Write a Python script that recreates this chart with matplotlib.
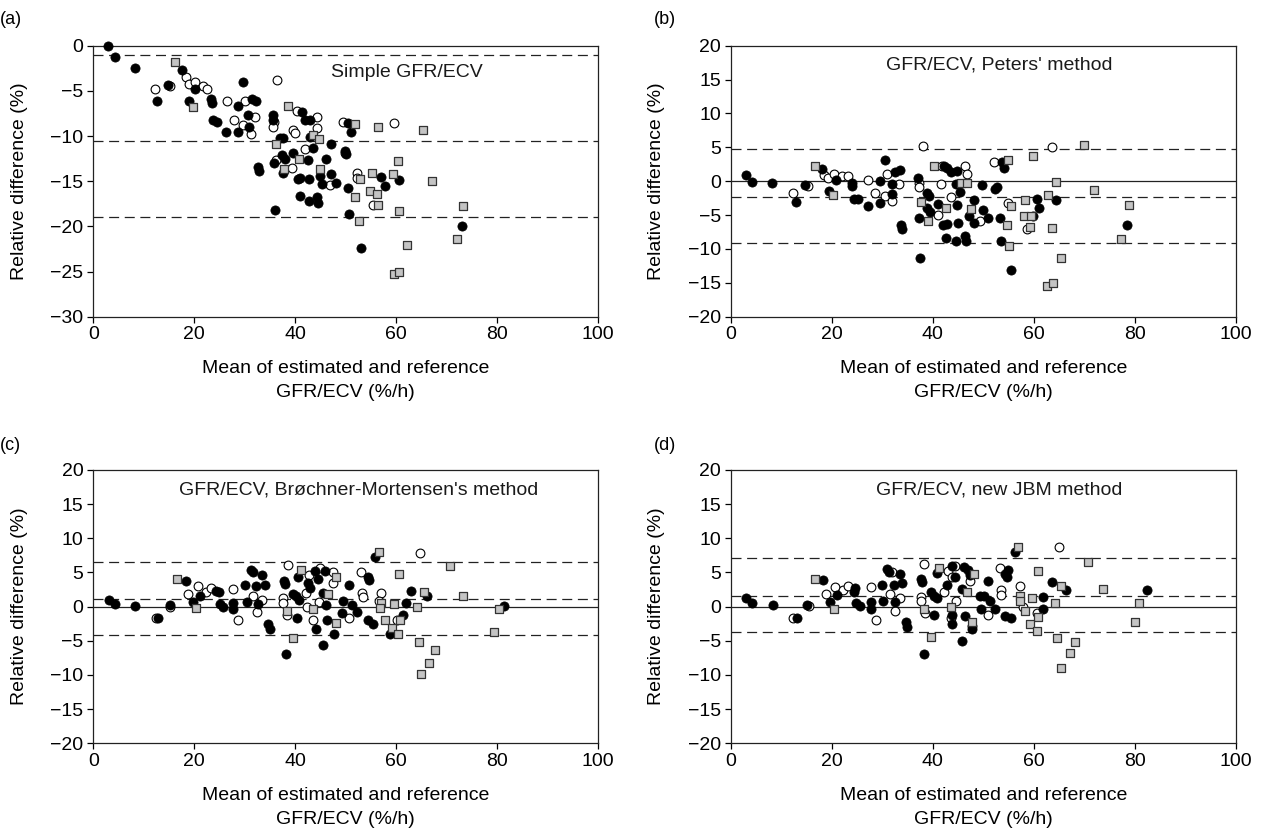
import matplotlib.pyplot as plt
import numpy as np

plt.rcParams['font.family'] = ['Liberation Sans', 'DejaVu Sans']

# ---- data: (mean, relative difference) ----
# (a) Simple GFR/ECV
a_filled = [(3.0, 0.0), (4.3, -1.3), (8.2, -2.5), (17.6, -2.7), (14.7, -4.3), (12.7, -6.1),
            (20.2, -4.8), (19.0, -6.1), (23.4, -5.9), (23.6, -6.3), (29.6, -4.0), (31.5, -5.9),
            (32.3, -6.1), (28.6, -6.7), (30.6, -7.7), (30.9, -9.0), (23.8, -8.2), (24.4, -8.4),
            (26.2, -9.6), (28.6, -9.6), (35.6, -7.7), (35.6, -8.2), (32.6, -13.4), (32.8, -13.9),
            (35.8, -13.0), (36.9, -10.2), (37.6, -10.2), (37.3, -12.1), (37.9, -12.5), (39.6, -11.9),
            (40.6, -14.8), (40.9, -14.7), (40.9, -16.6), (42.8, -17.2), (44.2, -16.8), (44.4, -17.4),
            (42.7, -14.8), (42.6, -12.7), (43.6, -11.3), (42.9, -10.1), (41.3, -7.3), (41.9, -8.2),
            (42.9, -8.2), (46.0, -12.5), (44.9, -14.4), (45.2, -15.3), (47.1, -14.2), (48.0, -15.2),
            (47.0, -10.9), (35.9, -18.2), (50.6, -18.6), (50.5, -15.7), (50.5, -8.6), (51.1, -9.5),
            (49.8, -11.7), (50.0, -12.0), (56.9, -14.5), (57.8, -15.5), (60.6, -14.9), (53.1, -22.4),
            (73.1, -20.0), (37.6, -14.1)]
a_open = [(12.2, -4.8), (15.2, -4.5), (18.3, -3.5), (18.9, -4.2), (20.1, -4.0), (21.7, -4.5),
          (22.6, -4.8), (26.4, -6.1), (30.0, -6.1), (32.1, -7.9), (27.9, -8.2), (29.7, -8.8),
          (31.2, -9.8), (36.4, -3.8), (35.7, -8.5), (35.6, -9.0), (39.6, -9.3), (39.9, -9.7),
          (40.3, -7.2), (42.0, -11.4), (39.4, -13.5), (36.2, -12.7), (44.2, -7.9), (44.2, -9.1),
          (46.8, -15.4), (49.5, -8.4), (49.8, -11.9), (52.2, -14.1), (52.3, -14.6), (55.4, -17.6),
          (59.6, -8.6)]
a_square = [(16.2, -1.8), (19.8, -6.8), (38.6, -6.7), (36.2, -10.9), (40.7, -12.5), (37.7, -13.7),
            (43.6, -9.9), (44.7, -10.3), (44.8, -13.7), (51.9, -8.7), (56.3, -9.0), (65.2, -9.3),
            (60.3, -12.8), (52.8, -14.8), (55.1, -14.1), (59.3, -14.2), (67.0, -15.0), (51.8, -16.7),
            (54.8, -16.1), (56.1, -16.4), (56.3, -17.6), (60.5, -18.3), (52.6, -19.4), (73.3, -17.8),
            (72.0, -21.4), (62.1, -22.1), (59.5, -25.3), (60.5, -25.1)]
a_lines = [-1.0, -10.5, -19.0]

# (b) Peters' method
b_filled = [(3.0, 0.9), (4.3, -0.1), (8.1, -0.2), (12.9, -3.0), (14.7, -0.5), (18.0, 1.8),
            (19.5, -1.4), (20.8, 0.2), (24.0, -0.3), (24.0, -0.7), (24.5, -2.6), (25.3, -2.6),
            (27.1, -3.6), (29.6, 0.05), (29.6, -3.2), (30.6, 3.2), (31.9, -0.4), (32.0, -1.9),
            (32.5, 1.4), (33.6, 1.7), (33.7, -6.5), (34.0, -7.1), (37.0, 0.4), (37.2, -5.4),
            (37.4, -11.3), (38.8, -1.7), (39.3, -2.2), (38.8, -4.0), (39.5, -4.6), (41.1, -3.4),
            (42.2, 2.3), (42.9, 1.9), (43.7, 1.3), (44.9, 1.5), (44.7, -0.4), (45.4, -1.6),
            (44.8, -3.5), (42.1, -6.4), (42.8, -6.3), (45.1, -6.1), (48.2, -2.8), (50.0, -4.2),
            (51.0, -5.4), (47.1, -5.1), (48.1, -6.1), (49.7, -0.6), (52.4, -1.1), (52.7, -0.8),
            (53.8, 2.8), (54.2, 1.9), (53.3, -5.4), (42.6, -8.4), (44.7, -8.9), (46.4, -8.1),
            (46.6, -8.8), (53.5, -8.8), (55.6, -13.1), (60.6, -2.7), (61.0, -3.9), (64.5, -2.8),
            (59.9, -5.1), (78.4, -6.5)]
b_open = [(12.4, -1.7), (15.4, -0.7), (18.5, 0.9), (19.3, 0.4), (20.5, 1.0), (22.0, 0.8),
          (23.3, 0.8), (27.1, 0.2), (28.6, -1.7), (30.9, 1.1), (30.6, -2.2), (32.0, -2.9),
          (33.3, -0.4), (38.1, 5.2), (37.2, -0.2), (37.2, -0.9), (41.8, 2.3), (46.3, 2.3),
          (46.7, 1.0), (41.6, -0.4), (43.7, -2.3), (41.1, -5.0), (49.4, -5.9), (52.2, 2.9),
          (55.0, -3.2), (58.6, -7.0), (63.6, 5.1)]
b_square = [(16.6, 2.3), (20.3, -2.1), (37.6, -3.0), (40.3, 2.3), (45.7, -0.2), (46.8, -0.2),
            (42.6, -4.0), (47.6, -4.1), (39.1, -5.9), (55.0, 3.1), (59.9, 3.7), (70.0, 5.4),
            (64.5, -0.1), (72.0, -1.3), (62.9, -2.0), (55.5, -3.7), (58.3, -2.8), (54.8, -6.5),
            (58.1, -5.2), (59.5, -5.2), (59.3, -6.8), (63.7, -6.9), (78.9, -3.5), (77.2, -8.6),
            (55.2, -9.6), (65.5, -11.3), (62.7, -15.5), (63.9, -15.0)]
b_lines = [4.8, -2.3, -9.1]

# (c) Brøchner-Mortensen's method
c_filled = [(3.1, 1.0), (4.3, 0.4), (8.3, 0.05), (12.9, -1.6), (15.2, 0.3), (18.3, 3.7),
            (19.7, 0.7), (21.1, 1.6), (24.3, 2.3), (24.8, 2.1), (25.0, 0.4), (25.6, -0.1),
            (27.7, 0.5), (27.7, -0.4), (30.0, 3.1), (30.4, 0.7), (31.2, 5.4), (31.7, 5.0),
            (32.2, 3.0), (33.5, 4.6), (34.0, 3.2), (32.7, 0.4), (34.5, -2.6), (34.9, -3.2),
            (37.8, 3.7), (37.9, 3.3), (39.5, 1.9), (40.1, 1.5), (40.8, 1.0), (40.3, -1.6),
            (38.2, -7.0), (40.6, 4.4), (42.6, 3.4), (42.9, 2.7), (43.9, 5.2), (44.5, 4.1),
            (45.9, 5.2), (45.5, 2.0), (46.0, 0.3), (44.1, -3.2), (46.3, -1.9), (47.7, -4.0),
            (45.5, -5.6), (50.7, 3.2), (49.4, 0.9), (49.3, -0.9), (51.2, 0.3), (52.2, -0.8),
            (54.3, 4.4), (54.5, 3.9), (55.8, 7.2), (54.4, -1.9), (55.3, -2.6), (58.8, -4.0),
            (61.9, 0.6), (61.4, -1.2), (63.0, 2.3), (66.0, 1.5), (81.3, 0.1)]
c_open = [(12.4, -1.6), (15.2, -0.1), (18.8, 1.9), (20.7, 3.0), (22.3, 2.2), (23.3, 2.7),
          (27.7, 2.6), (28.6, -2.0), (31.6, 1.6), (32.5, -0.8), (33.5, 1.0), (37.5, 1.3),
          (37.5, 0.6), (38.3, -1.2), (38.5, 6.1), (42.1, 2.0), (42.4, 0.0), (42.8, 4.7),
          (43.6, -2.0), (44.6, 0.7), (44.8, 5.6), (47.4, 5.1), (47.4, 3.4), (50.6, -1.7),
          (53.1, 5.0), (53.3, 2.0), (53.4, 1.4), (57.0, 2.0), (56.5, 0.8), (60.1, -2.0),
          (64.7, 7.9)]
c_square = [(16.6, 4.0), (20.3, -0.2), (38.3, -0.7), (39.6, -4.6), (41.1, 5.3), (43.6, -0.4),
            (46.5, 1.9), (48.1, 4.3), (48.0, -2.4), (56.6, 8.0), (60.5, 4.8), (70.6, 6.0),
            (65.4, 2.2), (73.3, 1.6), (57.0, 0.6), (56.8, -0.2), (59.6, 0.4), (64.0, -0.1),
            (57.8, -1.9), (60.7, -2.0), (59.1, -3.1), (60.3, -4.0), (80.4, -0.4), (79.4, -3.7),
            (64.5, -5.2), (67.6, -6.3), (66.4, -8.2), (64.9, -9.9)]
c_lines = [6.6, 1.1, -4.1]

# (d) new JBM method
d_filled = [(3.0, 1.2), (4.3, 0.6), (8.3, 0.2), (13.2, -1.6), (15.2, 0.3), (18.3, 3.9),
            (19.7, 0.7), (21.1, 1.7), (24.6, 2.7), (24.5, 2.2), (24.9, 0.6), (25.6, 0.1),
            (27.8, 0.7), (27.7, -0.4), (30.0, 3.2), (30.2, 0.9), (30.9, 5.5), (31.3, 5.1),
            (32.4, 3.2), (33.5, 4.8), (34.0, 3.5), (32.5, 0.7), (34.7, -2.3), (35.0, -3.0),
            (37.6, 4.0), (37.9, 3.6), (38.3, -6.9), (39.6, 2.1), (40.3, 1.6), (40.9, 1.2),
            (40.8, 4.9), (40.3, -1.2), (42.9, 3.2), (43.9, 5.9), (44.4, 4.4), (46.1, 5.8),
            (46.9, 5.3), (47.4, 4.7), (45.8, 2.6), (43.8, -1.2), (43.9, -2.6), (46.4, -1.3),
            (47.7, -3.3), (47.7, -2.8), (45.8, -5.1), (49.4, 1.5), (50.1, 1.6), (49.6, -0.3),
            (51.3, 0.8), (52.3, -0.3), (50.9, 3.7), (54.3, 4.8), (54.7, 4.4), (55.0, 5.3),
            (54.4, -1.4), (55.6, -1.7), (56.2, 8.0), (61.9, 1.4), (61.8, -0.3), (63.6, 3.6),
            (66.4, 2.5), (82.4, 2.4)]
d_open = [(12.4, -1.6), (15.6, 0.05), (18.8, 1.9), (20.7, 2.9), (22.3, 2.4), (23.3, 3.0),
          (27.8, 2.9), (28.8, -1.9), (31.9, 5.1), (31.6, 1.8), (32.5, -0.6), (33.6, 1.2),
          (38.2, 6.3), (37.7, 1.4), (37.7, 0.8), (38.4, -0.9), (42.2, 2.2), (43.1, 5.2),
          (43.8, 4.4), (44.5, 5.9), (44.7, 0.9), (43.6, -1.6), (47.4, 3.7), (51.0, -1.2),
          (53.4, 5.7), (53.5, 2.5), (53.5, 1.7), (57.3, 3.0), (57.8, -0.1), (60.6, -0.9),
          (65.1, 8.8)]
d_square = [(16.6, 4.1), (20.5, -0.3), (38.3, -0.4), (39.6, -4.4), (41.2, 5.6), (43.6, 0.0),
            (46.7, 2.2), (48.2, 4.8), (47.8, -2.2), (56.8, 8.7), (60.8, 5.2), (57.3, 1.5),
            (57.3, 0.9), (58.3, -0.6), (59.7, 1.3), (60.9, -1.5), (59.2, -2.5), (60.6, -3.5),
            (64.2, 0.6), (65.5, 3.0), (70.7, 6.6), (73.8, 2.6), (80.8, 0.6), (80.0, -2.3),
            (64.7, -4.6), (68.2, -5.2), (67.1, -6.8), (65.4, -9.0)]
d_lines = [7.1, 1.6, -3.7]

titles = ['Simple GFR/ECV', "GFR/ECV, Peters' method",
          "GFR/ECV, Brøchner-Mortensen's method", 'GFR/ECV, new JBM method']
letters = ['(a)', '(b)', '(c)', '(d)']

W, H = 1265, 832
fig = plt.figure(figsize=(W / 100, H / 100), dpi=100)

# axes boxes in pixels: left, top, width, height
boxes = [(93.3, 45.7, 505, 271), (730.7, 45.7, 505, 271),
         (93.3, 470, 505, 273.3), (730.7, 470, 505, 273.3)]
panels = [(a_filled, a_open, a_square, a_lines),
          (b_filled, b_open, b_square, b_lines),
          (c_filled, c_open, c_square, c_lines),
          (d_filled, d_open, d_square, d_lines)]

FS = 14
for i, ((l, t, w, h), (filled, opn, sq, lines)) in enumerate(zip(boxes, panels)):
    ax = fig.add_axes([l / W, (H - t - h) / H, w / W, h / H])
    ax.set_xlim(0, 100)
    ax.set_xticks(range(0, 101, 20))
    if i == 0:
        ax.set_ylim(-30, 0)
        ax.set_yticks(range(-30, 1, 5))
    else:
        ax.set_ylim(-20, 20)
        ax.set_yticks(range(-20, 21, 5))
        ax.axhline(0, color='#222222', lw=0.9, zorder=1)

    for v in lines:
        ax.axhline(v, color='#222222', lw=0.9, ls=(0, (8, 4.5)), zorder=1)

    o = np.array(opn)
    f = np.array(filled)
    s = np.array(sq)
    ax.scatter(o[:, 0], o[:, 1], s=40, facecolor='white', edgecolor='black',
               linewidth=0.8, zorder=3, clip_on=False)
    ax.scatter(f[:, 0], f[:, 1], s=44, facecolor='black', edgecolor='black',
               linewidth=0.5, zorder=4, clip_on=False)
    ax.scatter(s[:, 0], s[:, 1], s=40, marker='s', facecolor='#c4c4c4',
               edgecolor='#333333', linewidth=0.9, zorder=5, clip_on=False)

    for sp in ax.spines.values():
        sp.set_linewidth(0.9)
        sp.set_color('#222222')
    ax.tick_params(direction='out', length=4, width=0.9, labelsize=FS, pad=3)

    tx, ty = [(0.62, 0.90), (0.531, 0.929), (0.525, 0.927), (0.531, 0.927)][i]
    ax.text(tx, ty, titles[i], transform=ax.transAxes, ha='center', va='center',
            fontsize=FS, color='#1a1a1a')

    # y label and two-line x label, placed by pixel offsets
    ax.annotate('Relative difference (%)', xy=(0, 0.5), xycoords='axes fraction',
                xytext=(-74 * 0.72, 0), textcoords='offset points',
                rotation=90, ha='center', va='center', fontsize=FS)
    ax.annotate('Mean of estimated and reference', xy=(0.5, 0), xycoords='axes fraction',
                xytext=(0, -52 * 0.72), textcoords='offset points',
                ha='center', va='center', fontsize=FS)
    ax.annotate('GFR/ECV (%/h)', xy=(0.5, 0), xycoords='axes fraction',
                xytext=(0, -76 * 0.72), textcoords='offset points',
                ha='center', va='center', fontsize=FS)

    lx = 0 if l < 300 else 654
    ly = 20 if t < 300 else 445
    fig.text(lx / W, 1 - ly / H, letters[i], ha='left', va='center', fontsize=FS - 1)

fig.savefig('out.png', dpi=100)
